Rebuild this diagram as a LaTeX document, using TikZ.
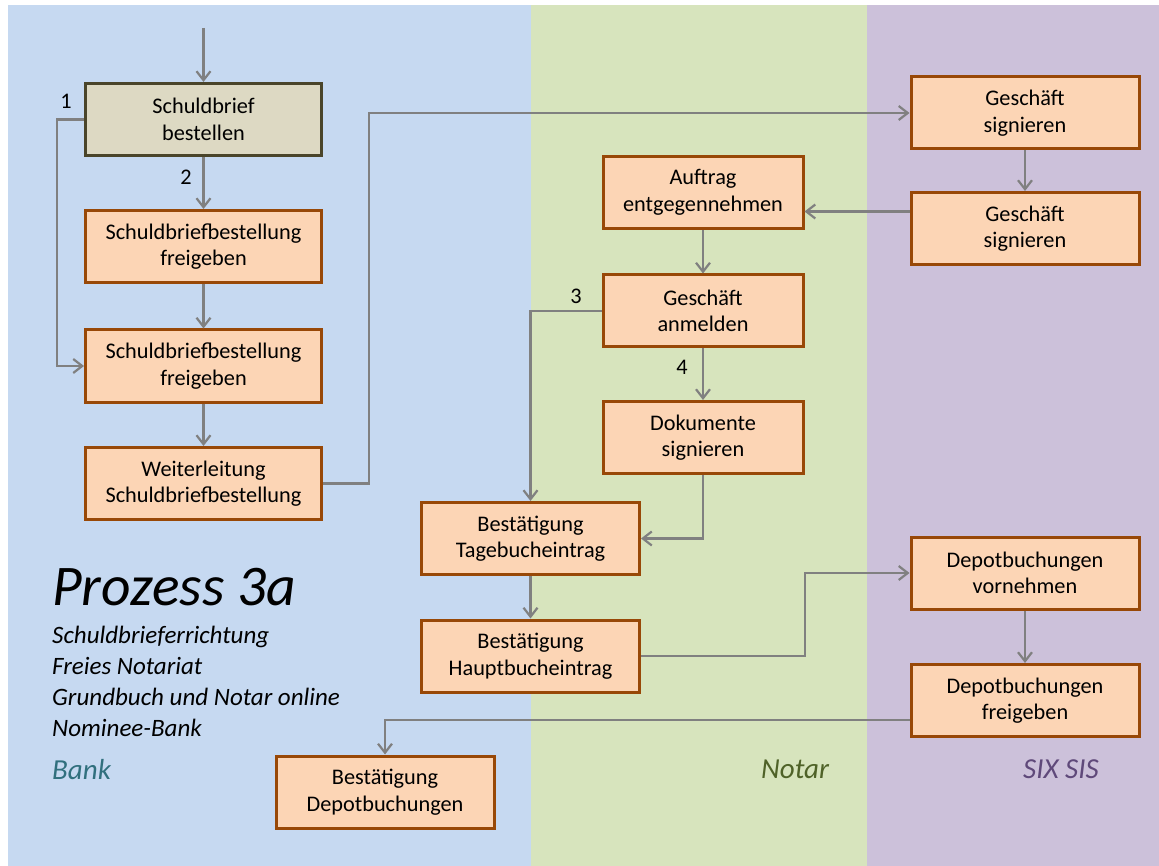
\documentclass[tikz,border=0pt]{standalone}
\usepackage{fontspec}
\setmainfont{Carlito}
\usepackage{tikz}
\usetikzlibrary{arrows.meta}
\usepackage{xcolor}

\definecolor{bankblue}{HTML}{C6D9F1}
\definecolor{notargreen}{HTML}{D7E4BD}
\definecolor{sixpurple}{HTML}{CCC1DA}
\definecolor{boxfill}{HTML}{FCD5B5}
\definecolor{boxbrown}{HTML}{984807}
\definecolor{startfill}{HTML}{DDD9C3}
\definecolor{startdraw}{HTML}{4A452A}
\definecolor{arrowgray}{HTML}{808080}
\definecolor{banktext}{HTML}{31707E}
\definecolor{notartext}{HTML}{4F6228}
\definecolor{sixtext}{HTML}{5F497A}

\begin{document}
\begin{tikzpicture}[x=1pt, y=-1pt,
	>={Straight Barb[length=9pt,width=14pt]},
	box/.style={draw=boxbrown, fill=boxfill, line width=3pt, minimum height=72pt,
		align=center, inner sep=0pt, font=\fontsize{22.3}{26.5}\selectfont},
	flow/.style={draw=arrowgray, line width=2.2pt},
	num/.style={font=\fontsize{22.3}{26.5}\selectfont},
	lane/.style={font=\fontsize{29}{34}\itshape, anchor=base west}]
				\useasboundingbox (0,0) rectangle (1159,866);
				% Swimlanes
				\fill[bankblue] (8,5) rectangle (531,866);
				\fill[notargreen] (531,5) rectangle (867,866);
				\fill[sixpurple] (867,5) rectangle (1159,866);
				% Bank
				\node[box, minimum width=236pt, draw=startdraw, fill=startfill] (bestellen) at (203.5,119.5) {Schuldbrief\\bestellen};
				\node[box, minimum width=236pt] (freigabeA) at (203.5,246.5) {Schuldbriefbestellung\\freigeben};
				\node[box, minimum width=236pt] (freigabeB) at (203.5,366) {Schuldbriefbestellung\\freigeben};
				\node[box, minimum width=236pt] (weiter) at (203.5,483.5) {Weiterleitung\\Schuldbriefbestellung};
				\node[box, minimum width=218pt] (bestdepot) at (385,792) {Bestätigung\\Depotbuchungen};
				% Notar
				\node[box, minimum width=200pt] (auftrag) at (703,192.5) {Auftrag\\entgegennehmen};
				\node[box, minimum width=200pt] (anmelden) at (703,311) {Geschäft\\anmelden};
				\node[box, minimum width=200pt] (dokumente) at (703,437.5) {Dokumente\\signieren};
				\node[box, minimum width=218pt] (tagebuch) at (530.5,538.5) {Bestätigung\\Tagebucheintrag};
				\node[box, minimum width=218pt] (hauptbuch) at (530.5,656) {Bestätigung\\Hauptbucheintrag};
				% SIX SIS
				\node[box, minimum width=228pt] (signierenA) at (1025,113) {Geschäft\\signieren};
				\node[box, minimum width=228pt] (signierenB) at (1025,228.5) {Geschäft\\signieren};
				\node[box, minimum width=228pt] (vornehmen) at (1025,573) {Depotbuchungen\\vornehmen};
				\node[box, minimum width=228pt] (depotfrei) at (1025,700.5) {Depotbuchungen\\freigeben};
				% Arrows
				\coordinate (start) at (203.5,28);
				\draw[->, flow] (start) -- (bestellen.north);
				\draw[->, flow] (bestellen.south) -- (freigabeA.north);
				\draw[->, flow] (bestellen.west) -- ++(-27,0) |- (freigabeB.west);
				\draw[->, flow] (freigabeA.south) -- (freigabeB.north);
				\draw[->, flow] (freigabeB.south) -- (weiter.north);
				\draw[->, flow] (weiter.east) -- ++(46,0) |- (signierenA.west);
				\draw[->, flow] (signierenA.south) -- (signierenB.north);
				\draw[->, flow] ([yshift=17pt]signierenB.west) -- ([yshift=17pt]signierenB.west -| auftrag.east);
				\draw[->, flow] (auftrag.south) -- (anmelden.north);
				\draw[->, flow] (anmelden.west) -| (tagebuch.north);
				\draw[->, flow] (anmelden.south) -- (dokumente.north);
				\draw[->, flow] (dokumente.south) |- (tagebuch.east);
				\draw[->, flow] (tagebuch.south) -- (hauptbuch.north);
				\draw[->, flow] (hauptbuch.east) -- ++(164,0) |- (vornehmen.west);
				\draw[->, flow] (vornehmen.south) -- (depotfrei.north);
				\draw[->, flow] ([yshift=-19.5pt]depotfrei.west) -| (bestdepot.north);
				% Step numbers
				\node[num] (one) at (66,101) {1};
				\node[num] (two) at (186,177) {2};
				\node[num] (three) at (576,296) {3};
				\node[num] (four) at (682,367) {4};
				% Title
				\node[font=\fontsize{57.5}{60}\itshape, anchor=base west, inner sep=0pt] (title) at (52,605) {Prozess 3a};
				\node[font=\fontsize{25}{31}\itshape, anchor=base west, inner sep=0pt, align=left] (subtitle) at (52,736)
					{Schuldbrieferrichtung\\Freies Notariat\\Grundbuch und Notar online\\Nominee-Bank};
				% Lane names
				\node[lane, inner sep=0pt, text=banktext] (bank) at (52,779) {Bank};
				\node[lane, inner sep=0pt, text=notartext] (notar) at (761,778) {Notar};
				\node[lane, inner sep=0pt, text=sixtext] (six) at (1023,778) {SIX SIS};
			\end{tikzpicture}
\end{document}
